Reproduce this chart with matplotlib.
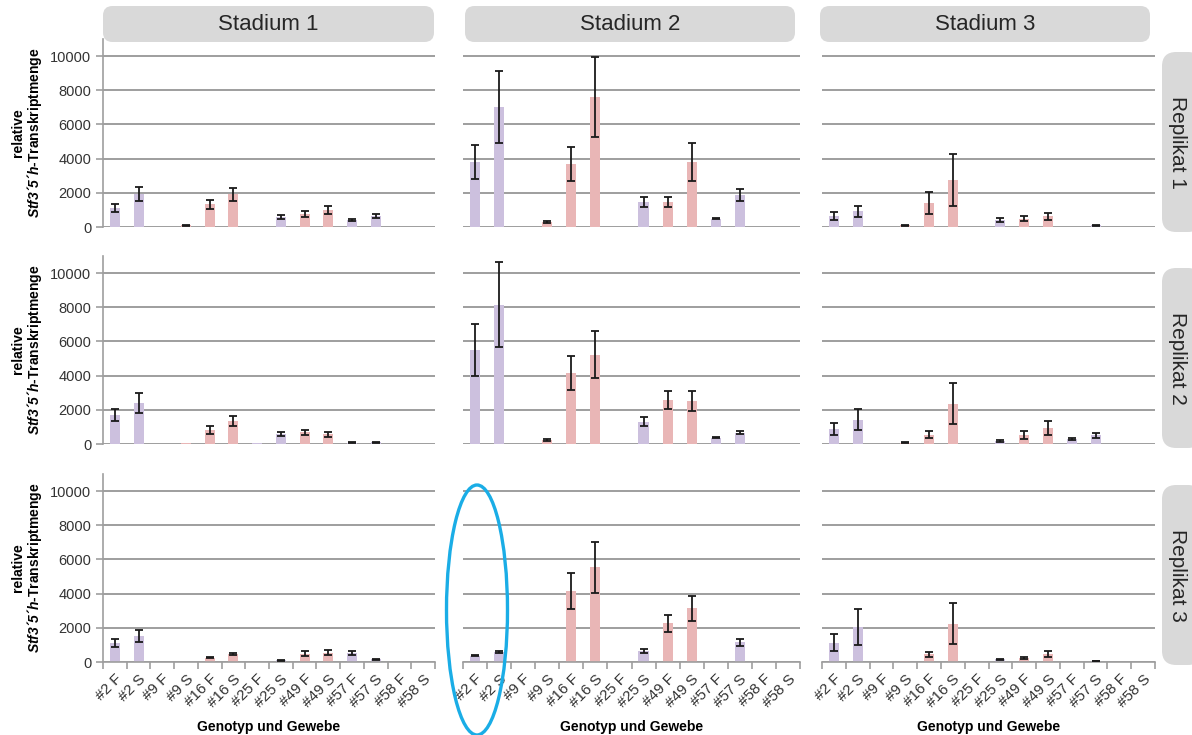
import matplotlib
matplotlib.use("Agg")
import matplotlib.pyplot as plt
import numpy as np
from matplotlib.patches import FancyBboxPatch, Ellipse

plt.rcParams['font.family'] = ['Liberation Sans', 'DejaVu Sans']
plt.rcParams['mathtext.fontset'] = 'custom'
plt.rcParams['mathtext.rm'] = 'Liberation Sans'
plt.rcParams['mathtext.it'] = 'Liberation Sans:italic'
plt.rcParams['mathtext.bf'] = 'Liberation Sans:bold'
plt.rcParams['mathtext.bfit'] = 'Liberation Sans:italic:bold'

# categories (genotype + tissue)
categories = ["#2 F", "#2 S", "#9 F", "#9 S", "#16 F", "#16 S", "#25 F",
              "#25 S", "#49 F", "#49 S", "#57 F", "#57 S", "#58 F", "#58 S"]
stages = ["Stadium 1", "Stadium 2", "Stadium 3"]
replicates = ["Replikat 1", "Replikat 2", "Replikat 3"]

# Replikat 1
s1_r1 = [1100, 1950, 15, 100, 1330, 1910, 15, 585, 740, 1010, 390, 640, 10, 10]
s1_r1_err = [250, 400, 0, 30, 250, 400, 0, 100, 170, 230, 50, 130, 0, 0]
s2_r1 = [3800, 7020, 10, 290, 3700, 7600, 10, 1460, 1480, 3800, 490, 1890, 10, 10]
s2_r1_err = [975, 2100, 0, 40, 1000, 2340, 0, 290, 290, 1100, 50, 340, 0, 0]
s3_r1 = [660, 915, 10, 100, 1400, 2730, 10, 390, 490, 620, 10, 100, 10, 10]
s3_r1_err = [245, 340, 0, 20, 620, 1520, 0, 110, 160, 215, 0, 20, 0, 0]

# Replikat 2
s1_r2 = [1715, 2400, 20, 50, 800, 1365, 40, 585, 680, 565, 70, 100, 15, 15]
s1_r2_err = [340, 585, 0, 0, 225, 300, 0, 125, 125, 135, 20, 20, 0, 0]
s2_r2 = [5510, 8140, 15, 235, 4140, 5215, 15, 1310, 2580, 2520, 370, 665, 15, 15]
s2_r2_err = [1520, 2480, 0, 40, 1000, 1375, 0, 270, 520, 560, 40, 70, 0, 0]
s3_r2 = [880, 1425, 10, 80, 545, 2360, 10, 175, 545, 935, 290, 505, 10, 10]
s3_r2_err = [340, 625, 0, 20, 200, 1200, 0, 30, 235, 390, 70, 135, 0, 0]

# Replikat 3
s1_r3 = [1120, 1510, 0, 0, 255, 450, 0, 100, 490, 550, 530, 160, 0, 0]
s1_r3_err = [245, 345, 0, 0, 40, 50, 0, 20, 140, 165, 120, 30, 0, 0]
s2_r3 = [370, 590, 0, 0, 4160, 5530, 0, 650, 2260, 3140, 0, 1160, 0, 0]
s2_r3_err = [30, 50, 0, 0, 1050, 1500, 0, 100, 500, 745, 0, 215, 0, 0]
s3_r3 = [1140, 2060, 0, 60, 450, 2250, 0, 160, 235, 450, 0, 60, 0, 0]
s3_r3_err = [490, 1050, 0, 0, 150, 1200, 0, 30, 40, 175, 0, 10, 0, 0]

values = [[s1_r1, s2_r1, s3_r1], [s1_r2, s2_r2, s3_r2], [s1_r3, s2_r3, s3_r3]]
errors = [[s1_r1_err, s2_r1_err, s3_r1_err], [s1_r2_err, s2_r2_err, s3_r2_err],
          [s1_r3_err, s2_r3_err, s3_r3_err]]

purple = '#CCC0DE'
pink = '#E9B6B6'
peach = '#F5D3B3'
genotype_color = {"#2": purple, "#9": pink, "#16": pink, "#25": purple,
                  "#49": pink, "#57": purple, "#58": peach}
bar_colors = [genotype_color[c.split()[0]] for c in categories]

W, H = 1192, 735
fig = plt.figure(figsize=(W / 100, H / 100), dpi=100)

col_x = [(103, 435), (463, 800), (822, 1155)]
row_y = [(39, 227), (256, 444), (474, 662)]  # top, zero-line (pixels)

grid_col = '#9E9E9E'
x = np.arange(len(categories))

for r in range(3):
    for c in range(3):
        x0, x1 = col_x[c]
        y0, y1 = row_y[r]
        ax = fig.add_axes([x0 / W, 1 - y1 / H, (x1 - x0) / W, (y1 - y0) / H])
        vals = np.array(values[r][c])
        errs = np.array(errors[r][c])
        ax.bar(x, vals, width=0.42, color=bar_colors, zorder=2)
        has_err = errs > 0
        ax.errorbar(x[has_err], vals[has_err], yerr=errs[has_err], fmt='none',
                    ecolor='#1a1a1a', elinewidth=1.3, capsize=3, capthick=1.3,
                    zorder=3)
        ax.set_xlim(-0.5, len(categories) - 0.5)
        ax.set_ylim(0, 11000)
        ax.set_yticks(np.arange(0, 10001, 2000))
        ax.yaxis.grid(True, color=grid_col, linewidth=1.4, zorder=0)
        ax.set_axisbelow(True)
        for s in ['top', 'right']:
            ax.spines[s].set_visible(False)
        ax.spines['left'].set_color(grid_col)
        ax.spines['bottom'].set_color(grid_col)
        ax.spines['left'].set_linewidth(1.2)
        ax.spines['bottom'].set_linewidth(1.2)
        if c == 0:
            ax.tick_params(axis='y', colors=grid_col, labelcolor='#333333',
                           labelsize=10.5, length=5, width=1.2)
            ax.text(-0.255, 0.5, 'relative', transform=ax.transAxes,
                    rotation=90, ha='center', va='center', fontsize=10,
                    fontweight='bold')
            ax.text(-0.205, 0.5, r'$\mathbfit{Stf3´5´h}$-Transkriptmenge',
                    transform=ax.transAxes, rotation=90, ha='center',
                    va='center', fontsize=10, fontweight='bold')
        else:
            ax.spines['left'].set_visible(False)
            ax.tick_params(axis='y', left=False, labelleft=False)
        if r == 2:
            ax.set_xticks(x)
            ax.set_xticklabels(categories, rotation=45, ha='right',
                               rotation_mode='anchor', fontsize=11,
                               color='#333333')
            ax.set_xticks(np.arange(-0.5, len(categories), 1), minor=True)
            ax.tick_params(axis='x', which='major', length=0, pad=7)
            ax.tick_params(axis='x', which='minor', length=5, width=1.2,
                           color=grid_col)
            ax.text(0.5, -0.31, 'Genotyp und Gewebe', transform=ax.transAxes,
                    ha='center', va='top', fontsize=10, fontweight='bold')
        else:
            ax.spines['bottom'].set_visible(False)
            ax.set_xticks([])

# column headers
header_x = [(103, 434), (465, 795), (820, 1150)]
for (a, b), name in zip(header_x, stages):
    box = FancyBboxPatch((a / W, 1 - 42 / H), (b - a) / W, 36 / H,
                         boxstyle="round,pad=0,rounding_size=0.008",
                         transform=fig.transFigure, facecolor='#D9D9D9',
                         edgecolor='none', mutation_aspect=W / H)
    fig.patches.append(box)
    fig.text((a + b) / 2 / W, 1 - 25 / H, name, ha='center', va='center',
             fontsize=16, color='#262626')

# row strips
strip_y = [(52, 232), (268, 448), (485, 665)]
for (a, b), name in zip(strip_y, replicates):
    box = FancyBboxPatch((1162 / W, 1 - b / H), 40 / W, (b - a) / H,
                         boxstyle="round,pad=0,rounding_size=0.012",
                         transform=fig.transFigure, facecolor='#D9D9D9',
                         edgecolor='none', mutation_aspect=W / H)
    fig.patches.append(box)
    fig.text(1178 / W, 1 - (a + b) / 2 / H, name, ha='center', va='center',
             rotation=-90, fontsize=15, color='#262626')

# highlight ellipse
ell = Ellipse((477 / W, 1 - 610 / H), 61 / W, 250 / H, transform=fig.transFigure,
              fill=False, edgecolor='#1AADE6', linewidth=2.4)
fig.patches.append(ell)

fig.savefig('out.png', dpi=100)
